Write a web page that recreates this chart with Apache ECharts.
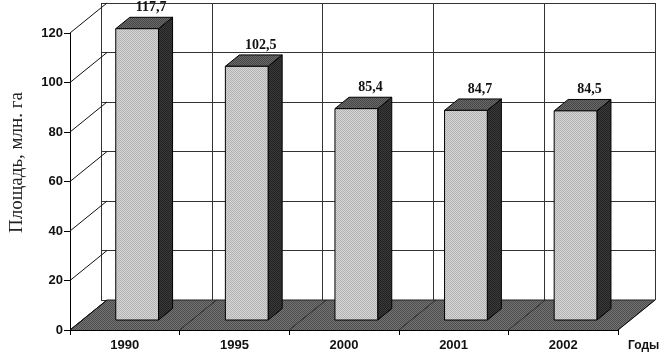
<!DOCTYPE html>
<html><head><meta charset="utf-8">
<script src="https://cdn.jsdelivr.net/npm/echarts@6/dist/echarts.min.js"></script>
<style>html,body{margin:0;padding:0;background:#fff}#c{width:666px;height:362px}</style>
</head><body><div id="c"></div>
<script>
const categories = ['1990', '1995', '2000', '2001', '2002'];
const values = [117.7, 102.5, 85.4, 84.7, 84.5];
const valueLabels = ['117,7', '102,5', '85,4', '84,7', '84,5'];
const yTicks = [0, 20, 40, 60, 80, 100, 120];
const yTitle = 'Площадь, млн. га';
const xTitle = 'Годы';

const DX = 37, DY = -30;
const G = { left: 64, top: 33, width: 554, height: 297 };

function makePattern(a, b) {
  const cv = document.createElement('canvas');
  cv.width = 2; cv.height = 2;
  const ctx = cv.getContext('2d');
  ctx.fillStyle = a; ctx.fillRect(0, 0, 2, 2);
  ctx.fillStyle = b; ctx.fillRect(0, 0, 1, 1); ctx.fillRect(1, 1, 1, 1);
  return { image: cv, repeat: 'repeat' };
}
const frontFill = makePattern('#d6d6d6', '#b2b2b2');
const sideFill = makePattern('#3a3a3a', '#222222');
const topFill = makePattern('#6a6a6a', '#464646');
const floorFill = makePattern('#737373', '#4e4e4e');

const chart = echarts.init(document.getElementById('c'), null, { renderer: 'canvas' });

function bandOf(api) { return api.size([1, 0])[0]; }

const option = {
  animation: false,
  backgroundColor: '#fff',
  grid: [
    { left: G.left, top: G.top, width: G.width, height: G.height },
    { left: G.left + DX, top: G.top + DY, width: G.width, height: G.height }
  ],
  xAxis: [
    { type: 'category', gridIndex: 0, data: categories,
      axisLine: { lineStyle: { color: '#000', width: 1 } },
      axisTick: { show: true, length: 5, lineStyle: { color: '#000' } },
      axisLabel: { margin: 9, color: '#111', fontFamily: 'Liberation Sans', fontWeight: 'bold', fontSize: 13 },
      splitLine: { show: false },
      name: xTitle, nameLocation: 'end', nameGap: 10,
      nameTextStyle: { color: '#111', fontFamily: 'Liberation Sans', fontWeight: 'bold', fontSize: 12, verticalAlign: 'top', padding: [10, 0, 0, 0] }
    },
    { type: 'category', gridIndex: 1, data: categories,
      axisLine: { show: false }, axisTick: { show: false }, axisLabel: { show: false },
      splitLine: { show: true, lineStyle: { color: '#333', width: 1 } }
    }
  ],
  yAxis: [
    { type: 'value', gridIndex: 0, min: 0, max: 120, interval: 20,
      axisLine: { show: true, lineStyle: { color: '#000', width: 1 } },
      axisTick: { show: true, length: 6, lineStyle: { color: '#000' } },
      axisLabel: { margin: 7, color: '#111', fontFamily: 'Liberation Sans', fontWeight: 'bold', fontSize: 13 },
      splitLine: { show: false },
      name: yTitle, nameLocation: 'middle', nameGap: 43,
      nameTextStyle: { color: '#222', fontFamily: 'Liberation Serif', fontSize: 19, padding: [0, 0, 0, 38] }
    },
    { type: 'value', gridIndex: 1, min: 0, max: 120, interval: 20,
      axisLine: { show: false }, axisTick: { show: false }, axisLabel: { show: false },
      splitLine: { show: true, lineStyle: { color: '#333', width: 1 } }
    }
  ],
  series: [
    { // floor
      type: 'custom', xAxisIndex: 0, yAxisIndex: 0, z: 1,
      data: categories.map((c, i) => [i, 0]),
      renderItem: function (params, api) {
        const i = api.value(0);
        const c = api.coord([i, 0]);
        const b = bandOf(api);
        const x0 = c[0] - b / 2, x1 = c[0] + b / 2, y = c[1];
        const children = [
          { type: 'polygon', shape: { points: [[x0, y], [x1 + 0.5, y], [x1 + 0.5 + DX, y + DY], [x0 + DX, y + DY]] },
            style: { fill: floorFill, stroke: null } },
          { type: 'line', shape: { x1: x0, y1: y, x2: x0 + DX, y2: y + DY },
            style: { stroke: i === 0 ? '#000' : '#2a2a2a', lineWidth: 1 } }
        ];
        if (i === categories.length - 1) {
          children.push({ type: 'line', shape: { x1: x1, y1: y, x2: x1 + DX, y2: y + DY }, style: { stroke: '#000', lineWidth: 1 } });
          children.push({ type: 'line', shape: { x1: x1 - b * categories.length + DX, y1: y + DY, x2: x1 + DX, y2: y + DY }, style: { stroke: '#222', lineWidth: 1 } });
        }
        return { type: 'group', children: children };
      }
    },
    { // left wall lines
      type: 'custom', xAxisIndex: 0, yAxisIndex: 0, z: 2,
      data: yTicks.map(v => [0, v]),
      renderItem: function (params, api) {
        const p = api.coord([0, api.value(1)]);
        const x = p[0] - bandOf(api) / 2;
        return { type: 'line', shape: { x1: x, y1: p[1], x2: x + DX, y2: p[1] + DY }, style: { stroke: '#111', lineWidth: 1 } };
      }
    },
    { // bars
      type: 'custom', xAxisIndex: 0, yAxisIndex: 0, z: 3,
      data: values.map((v, i) => [i, v]),
      renderItem: function (params, api) {
        const i = api.value(0), v = api.value(1);
        const base = api.coord([i, 0]);
        const top = api.coord([i, v]);
        const b = bandOf(api);
        const fx = DX / 3, fy = DY / 3;
        const bx = DX * 0.38, by = DY * 0.38;
        const w = b * 0.39;
        const x0 = base[0] - w / 2 + fx, x1 = x0 + w;
        const yb = base[1] + fy, yt = top[1] + fy;
        return {
          type: 'group',
          children: [
            { type: 'polygon', shape: { points: [[x1, yt], [x1 + bx, yt + by], [x1 + bx, yb + by], [x1, yb]] },
              style: { fill: sideFill, stroke: '#000', lineWidth: 1 } },
            { type: 'polygon', shape: { points: [[x0, yt], [x1, yt], [x1 + bx, yt + by], [x0 + bx, yt + by]] },
              style: { fill: topFill, stroke: '#000', lineWidth: 1 } },
            { type: 'rect', shape: { x: x0, y: yt, width: w, height: yb - yt },
              style: { fill: frontFill, stroke: '#000', lineWidth: 1 } },
            { type: 'text', x: (x0 + x1) / 2 + bx, y: yt + by - 3,
              style: { text: valueLabels[i], fill: '#111', font: 'bold 14px "Liberation Serif"', align: 'center', verticalAlign: 'bottom' } }
          ]
        };
      }
    }
  ]
};
chart.setOption(option);
</script></body></html>
